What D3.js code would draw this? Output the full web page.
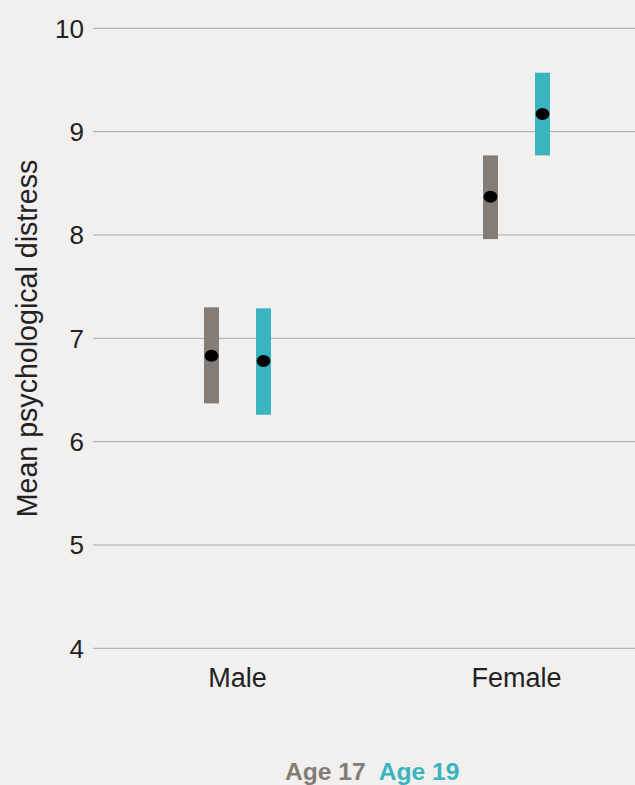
<!DOCTYPE html>
<html>
<head>
<meta charset="utf-8">
<script src="https://cdn.jsdelivr.net/npm/d3@7"></script>
<style>
  html, body { margin: 0; padding: 0; background: #f1f0ee; }
  svg { display: block; }
  text { font-family: "Liberation Sans", Arial, sans-serif; }
</style>
</head>
<body>
<svg id="chart" width="635" height="785"></svg>
<script>
// Mean psychological distress by sex, with confidence intervals
const categories = ["Male", "Female"];
const ages = ["Age 17", "Age 19"];
const mean17  = [6.83, 8.37];
const lower17 = [6.37, 7.96];
const upper17 = [7.30, 8.77];
const mean19  = [6.78, 9.17];
const lower19 = [6.26, 8.77];
const upper19 = [7.29, 9.57];
const yTicks = [4, 5, 6, 7, 8, 9, 10];
const ageColors = ["#847c76", "#3ab4bf"];

const rows = [];
categories.forEach((c, i) => {
  rows.push({ cat: c, age: ages[0], mean: mean17[i], lo: lower17[i], hi: upper17[i] });
  rows.push({ cat: c, age: ages[1], mean: mean19[i], lo: lower19[i], hi: upper19[i] });
});

const W = 635, H = 785;
const svg = d3.select("#chart");

svg.append("rect").attr("width", W).attr("height", H).attr("fill", "#f1f0ee");

const y = d3.scaleLinear().domain([4, 10]).range([648.3, 28.3]);
const x = d3.scaleBand().domain(categories).range([98, 656]);
const xs = d3.scaleBand().domain(ages).range([-52, 52]);
const color = d3.scaleOrdinal().domain(ages).range(ageColors);

// horizontal gridlines with value labels
const grid = svg.append("g");
grid.selectAll("line").data(yTicks).join("line")
  .attr("x1", 93).attr("x2", W)
  .attr("y1", d => y(d)).attr("y2", d => y(d))
  .attr("stroke", "#a9a9a9").attr("stroke-width", 1);
grid.selectAll("text").data(yTicks).join("text")
  .attr("x", 84).attr("y", d => y(d))
  .attr("dy", "0.36em")
  .attr("text-anchor", "end")
  .attr("font-size", 26)
  .attr("fill", "#222")
  .text(d => d);

// category labels
svg.append("g").selectAll("text").data(categories).join("text")
  .attr("x", d => x(d) + x.bandwidth() / 2)
  .attr("y", 686.5)
  .attr("text-anchor", "middle")
  .attr("font-size", 27)
  .attr("fill", "#222")
  .text(d => d);

// y-axis title
svg.append("text")
  .attr("transform", "translate(37,338.5) rotate(-90)")
  .attr("text-anchor", "middle")
  .attr("font-size", 28.6)
  .attr("fill", "#222")
  .text("Mean psychological distress");

// interval bars
const barW = 15;
const cx = d => x(d.cat) + x.bandwidth() / 2 + xs(d.age) + xs.bandwidth() / 2;
svg.append("g").selectAll("rect").data(rows).join("rect")
  .attr("x", d => cx(d) - barW / 2)
  .attr("width", barW)
  .attr("y", d => y(d.hi))
  .attr("height", d => y(d.lo) - y(d.hi))
  .attr("fill", d => color(d.age));

// mean markers
svg.append("g").selectAll("ellipse").data(rows).join("ellipse")
  .attr("cx", d => cx(d))
  .attr("cy", d => y(d.mean))
  .attr("rx", 6.9).attr("ry", 6)
  .attr("fill", "#000");

// legend
const legend = svg.append("text")
  .attr("x", 285).attr("y", 780)
  .attr("font-size", 24.6)
  .attr("font-weight", "bold");
ages.forEach((a, i) => {
  legend.append("tspan")
    .attr("fill", color(a))
    .attr("dx", i === 0 ? 0 : 13)
    .text(a);
});
</script>
</body>
</html>
